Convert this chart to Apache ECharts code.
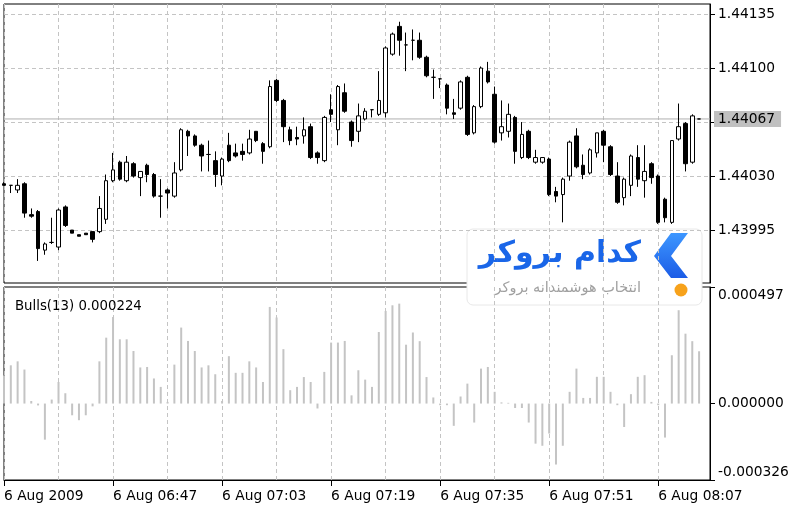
<!DOCTYPE html>
<html>
<head>
<meta charset="utf-8">
<script src="https://cdn.jsdelivr.net/npm/echarts@6.0.0/dist/echarts.min.js"></script>
<style>
html,body{margin:0;padding:0;background:#fff;}
#chart{width:800px;height:511px;}
</style>
</head>
<body>
<div id="chart"></div>
<script>
// ---- data (M1 bars) ----
const opens = [1.44025,1.44024,1.44021,1.44025,1.44005,1.44007,1.43982,1.43987,1.43984,1.44010,
1.43995,1.43992,1.43993,1.43994,1.43994,1.44002,1.44027,1.44039,1.44027,1.44038,
1.44029,1.44037,1.44031,1.44017,1.44021,1.44017,1.44034,1.44059,1.44056,1.44050,
1.44044,1.44040,1.44030,1.44050,1.44045,1.44046,1.44045,1.44059,1.44051,1.44049,
1.44092,1.44079,1.44060,1.44055,1.44056,1.44062,1.44045,1.44040,1.44073,1.44060,
1.44084,1.44065,1.44059,1.44067,1.44073,1.44070,1.44071,1.44109,1.44127,1.44115,
1.44118,1.44118,1.44107,1.44094,1.44093,1.44089,1.44071,1.44074,1.44094,1.44058,
1.44075,1.44098,1.44083,1.44058,1.44059,1.44068,1.44042,1.44059,1.44039,1.44039,
1.44041,1.44020,1.44018,1.44030,1.44056,1.44037,1.44032,1.44045,1.44059,1.44049,
1.44030,1.44016,1.44024,1.44042,1.44027,1.44038,1.44030,1.44015,1.44000,1.44054,
1.44064,1.44039,1.44067];
const closes = [1.44024,1.44024,1.44024,1.44006,1.44004,1.43983,1.43986,1.43987,1.44008,1.43998,
1.43993,1.43991,1.43992,1.43989,1.44009,1.44027,1.44034,1.44028,1.44039,1.44030,
1.44033,1.44031,1.44017,1.44017,1.44019,1.44032,1.44060,1.44056,1.44050,1.44043,
1.44044,1.44031,1.44041,1.44040,1.44043,1.44044,1.44054,1.44053,1.44046,1.44088,
1.44079,1.44062,1.44053,1.44054,1.44060,1.44042,1.44042,1.44068,1.44070,1.44088,
1.44072,1.44053,1.44069,1.44072,1.44073,1.44079,1.44113,1.44122,1.44118,1.44115,
1.44118,1.44107,1.44095,1.44094,1.44093,1.44074,1.44070,1.44091,1.44057,1.44075,
1.44100,1.44091,1.44052,1.44062,1.44070,1.44046,1.44057,1.44042,1.44042,1.44042,
1.44018,1.44017,1.44028,1.44052,1.44036,1.44031,1.44047,1.44058,1.44050,1.44031,
1.44013,1.44028,1.44043,1.44028,1.44033,1.44029,1.44000,1.44003,1.44053,1.44062,
1.44038,1.44069,1.44067];
const lows = [1.44024,1.44019,1.44019,1.44003,1.44003,1.43975,1.43979,1.43986,1.43982,1.43997,
1.43993,1.43991,1.43992,1.43987,1.43993,1.43999,1.44026,1.44027,1.44026,1.44029,
1.44017,1.44026,1.44016,1.44003,1.44009,1.44016,1.44033,1.44043,1.44049,1.44033,
1.44033,1.44023,1.44024,1.44039,1.44042,1.44040,1.44044,1.44052,1.44038,1.44048,
1.44078,1.44052,1.44050,1.44050,1.44051,1.44041,1.44038,1.44039,1.44065,1.44050,
1.44071,1.44049,1.44052,1.44066,1.44068,1.44069,1.44068,1.44108,1.44108,1.44098,
1.44105,1.44106,1.44094,1.44080,1.44087,1.44070,1.44067,1.44073,1.44056,1.44057,
1.44074,1.44090,1.44051,1.44053,1.44055,1.44038,1.44041,1.44041,1.44038,1.44038,
1.44017,1.44013,1.44000,1.44027,1.44035,1.44028,1.44031,1.44042,1.44039,1.44030,
1.44012,1.44011,1.44017,1.44023,1.44016,1.44025,1.43999,1.44000,1.43999,1.44053,
1.44033,1.44038,1.44067];
const highs = [1.44026,1.44024,1.44028,1.44026,1.44009,1.44008,1.43987,1.44003,1.44009,1.44011,
1.43995,1.43992,1.43993,1.43994,1.44017,1.44031,1.44045,1.44040,1.44043,1.44039,
1.44033,1.44038,1.44032,1.44028,1.44022,1.44039,1.44061,1.44060,1.44057,1.44051,
1.44053,1.44046,1.44042,1.44058,1.44051,1.44051,1.44060,1.44059,1.44052,1.44092,
1.44093,1.44080,1.44062,1.44062,1.44068,1.44064,1.44046,1.44069,1.44083,1.44089,
1.44090,1.44066,1.44077,1.44074,1.44073,1.44098,1.44114,1.44123,1.44130,1.44123,
1.44125,1.44123,1.44108,1.44099,1.44093,1.44090,1.44080,1.44092,1.44095,1.44076,
1.44101,1.44104,1.44088,1.44079,1.44077,1.44069,1.44065,1.44060,1.44047,1.44042,
1.44042,1.44023,1.44029,1.44053,1.44061,1.44044,1.44048,1.44058,1.44060,1.44050,
1.44039,1.44029,1.44044,1.44050,1.44050,1.44039,1.44031,1.44016,1.44053,1.44077,
1.44065,1.44070,1.44067];
const bulls = [0.000120,0.000163,0.000180,0.000145,0.000011,-0.000008,-0.000154,0.000017,0.000092,0.000044,
-0.000050,-0.000071,-0.000050,-0.000012,0.000180,0.000281,0.000369,0.000274,0.000274,0.000224,
0.000154,0.000156,0.000107,0.000071,0.000007,0.000166,0.000324,0.000267,0.000224,0.000154,
0.000163,0.000125,0.000011,0.000202,0.000131,0.000131,0.000180,0.000154,0.000092,0.000412,
0.000367,0.000232,0.000057,0.000071,0.000113,0.000092,-0.000021,0.000135,0.000260,0.000260,
0.000267,0.000035,0.000142,0.000102,0.000071,0.000305,0.000395,0.000419,0.000426,0.000251,
0.000303,0.000266,0.000113,0.000026,-0.000007,-0.000007,-0.000095,0.000030,0.000085,-0.000081,
0.000149,0.000156,0.000050,0.000005,0.000003,-0.000019,-0.000019,-0.000081,-0.000171,-0.000180,
-0.000128,-0.000260,-0.000180,0.000050,0.000149,0.000024,0.000024,0.000114,0.000114,0.000050,
-0.000007,-0.000100,0.000040,0.000114,0.000121,0.000007,-0.000007,-0.000145,0.000206,0.000398,
0.000298,0.000266,0.000223];
const timeLabels = ['6 Aug 2009','6 Aug 06:47','6 Aug 07:03','6 Aug 07:19','6 Aug 07:35','6 Aug 07:51','6 Aug 08:07'];
const timeTickBars = [0,16,32,48,64,80,96];
const priceGridValues = [1.43995,1.44030,1.44065,1.44100,1.44135];
const priceLabelValues = [1.43995,1.44030,1.44100,1.44135];
const currentPrice = 1.44067;
const bullsScale = [-0.000326, 0, 0.000497];
const bullsTitle = 'Bulls(13) 0.000224';

// ---- chart ----
const FONT = 'DejaVu Sans';
const TXT = '#000000';
const AX = 13.8;
const dashed = {show:true, lineStyle:{color:'#c4c4c4', width:1, type:[4,3]}};
const chart = echarts.init(document.getElementById('chart'), null, {renderer:'canvas'});
const candleData = opens.map((o,i)=>[i, o, closes[i], lows[i], highs[i]]);
const bullsData = bulls.map((v,i)=>[i, v]);
const xMax = 103.6;

const option = {
  animation:false,
  backgroundColor:'#ffffff',
  textStyle:{fontFamily:FONT},
  title:{text:bullsTitle, left:10, top:295, textStyle:{fontFamily:FONT, fontSize:13.3, fontWeight:'normal', color:TXT}},
  grid:[
    {left:4, top:4, width:706, height:279, show:true, borderColor:'#000', borderWidth:1, backgroundColor:'transparent'},
    {left:4, top:287, width:706, height:193, show:true, borderColor:'#000', borderWidth:1, backgroundColor:'transparent'}
  ],
  xAxis:[
    {type:'value', gridIndex:0, min:0, max:xMax, interval:8,
     axisLine:{show:false, onZero:false}, axisTick:{show:false}, axisLabel:{show:false}, splitLine:dashed},
    {type:'value', gridIndex:1, min:0, max:xMax, interval:8,
     axisLine:{show:false, onZero:false}, axisTick:{show:false}, axisLabel:{show:false}, splitLine:dashed},
    {type:'value', gridIndex:1, min:0, max:xMax, position:'bottom',
     axisLine:{show:true, onZero:false, lineStyle:{color:'#000'}},
     axisTick:{show:true, customValues:timeTickBars, length:6, lineStyle:{color:'#000'}},
     axisLabel:{show:true, customValues:timeTickBars, align:'left', margin:9, fontFamily:FONT, fontSize:AX, color:TXT,
       formatter:(v)=>{const k=timeTickBars.indexOf(Math.round(v)); return k>=0?timeLabels[k]:'';}},
     splitLine:{show:false}}
  ],
  yAxis:[
    {type:'value', gridIndex:0, position:'right', scale:true, min:1.439607, max:1.441415,
     axisLine:{show:true, onZero:false, lineStyle:{color:'#000'}},
     axisTick:{show:true, customValues:priceGridValues, length:5, lineStyle:{color:'#000'}},
     axisLabel:{show:true, customValues:priceLabelValues, margin:8, fontFamily:FONT, fontSize:AX, color:TXT,
       formatter:(v)=>v.toFixed(5)},
     splitLine:dashed},
    {type:'value', gridIndex:1, position:'right', min:bullsScale[0], max:bullsScale[2],
     axisLine:{show:true, onZero:false, lineStyle:{color:'#000'}},
     axisTick:{show:true, customValues:bullsScale, length:5, lineStyle:{color:'#000'}},
     axisLabel:{show:true, customValues:bullsScale, margin:8, fontFamily:FONT, fontSize:AX, color:TXT,
       formatter:(v)=>{
         const s=v.toFixed(6);
         if (v===bullsScale[2]) return '{t|'+s+'}';
         if (v===bullsScale[0]) return '{b|'+s+'}';
         return s;},
       rich:{t:{padding:[16,0,0,0], fontFamily:FONT, fontSize:AX, color:TXT},
             b:{padding:[0,0,16,0], fontFamily:FONT, fontSize:AX, color:TXT}}},
     splitLine:{show:false}}
  ],
  series:[
    {type:'line', xAxisIndex:0, yAxisIndex:0, z:1, silent:true, clip:false, symbol:'none',
     data:[[0,currentPrice],[xMax,currentPrice]],
     lineStyle:{color:'#b0b0b0', width:1, type:'solid'},
     endLabel:{show:true, distance:4, formatter:()=>currentPrice.toFixed(5),
       backgroundColor:'#c0c0c0', color:TXT, padding:[1,6,1,4], fontFamily:FONT, fontSize:AX}},
    {type:'candlestick', xAxisIndex:0, yAxisIndex:0, z:3, data:candleData, encode:{x:0, y:[1,2,3,4]},
     barWidth:4,
     itemStyle:{color:'#ffffff', color0:'#000000', borderColor:'#000000', borderColor0:'#000000', borderWidth:1}},
    {type:'bar', xAxisIndex:1, yAxisIndex:1, data:bullsData, barWidth:2,
     itemStyle:{color:'#c4c4c4'}}
  ],
  graphic:[
    {type:'group', z:100, children:[
      {type:'rect', shape:{x:467, y:229, width:235, height:76, r:6},
       style:{fill:'#ffffff', stroke:'#e8e8e8', lineWidth:1}},
      {type:'polygon', shape:{points:[[671,233],[688,233],[671,256],[688,278],[671,278],[654,256]]},
       style:{fill:new echarts.graphic.LinearGradient(0,0,0,1,[{offset:0,color:'#3d97ff'},{offset:1,color:'#1c5ce6'}])}},
      {type:'text', style:{x:641, y:254, text:'کدام بروکر', fill:'#1a66e8', font:'bold 30px "DejaVu Sans"', textAlign:'right', textVerticalAlign:'middle'}},
      {type:'text', style:{x:641, y:288, text:'انتخاب هوشمندانه بروکر', fill:'#a0a0a0', font:'14.5px "DejaVu Sans"', textAlign:'right', textVerticalAlign:'middle'}},
      {type:'circle', shape:{cx:681, cy:290, r:6.5}, style:{fill:'#f7a21b'}}
    ]}
  ]
};
chart.setOption(option);
</script>
</body>
</html>
